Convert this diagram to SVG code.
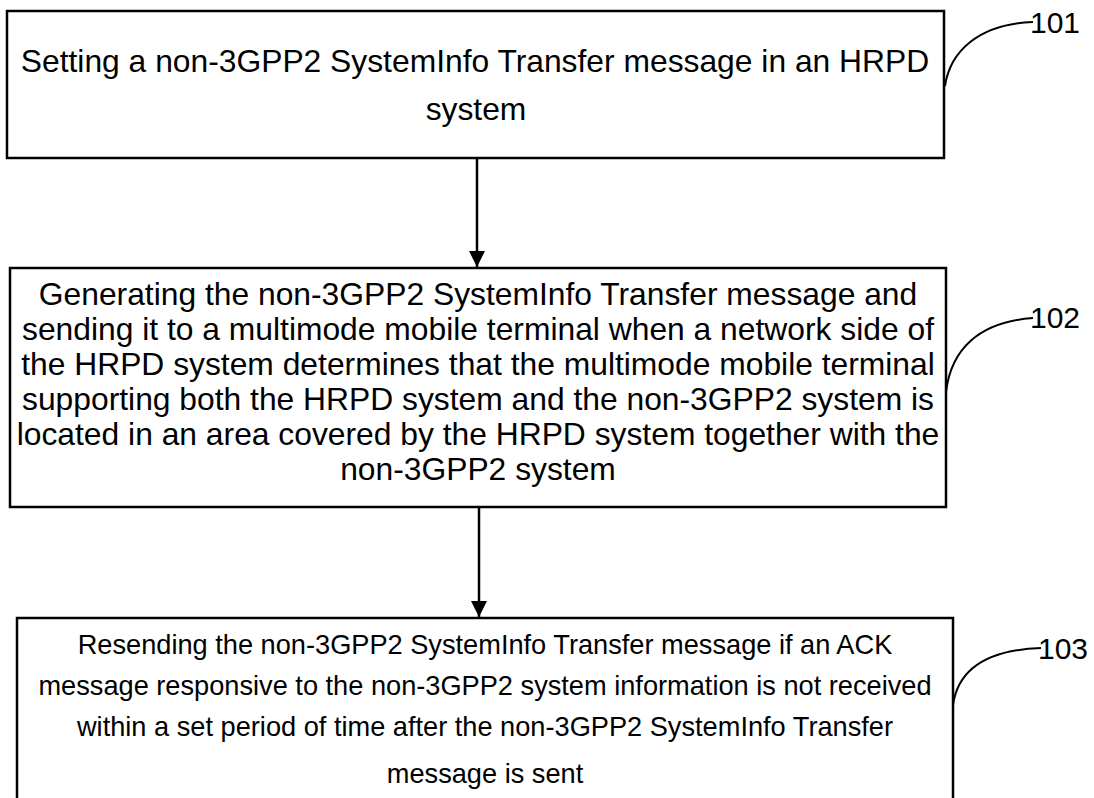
<svg xmlns="http://www.w3.org/2000/svg" width="1094" height="798" viewBox="0 0 1094 798">
<style>
.box{fill:#fff;stroke:#000;stroke-width:2.5}
.t{font-family:"Liberation Sans",Arial,sans-serif;fill:#000;text-anchor:middle}
.t1{font-size:31.8px}
.t3{font-size:27.2px}
.lbl{font-family:"Liberation Sans",Arial,sans-serif;font-size:30px;fill:#000}
.conn{stroke:#000;stroke-width:2.5;fill:none}
.lead{stroke:#000;stroke-width:2;fill:none}
</style>
<defs>
<marker id="ah" markerUnits="userSpaceOnUse" markerWidth="18" markerHeight="16" refX="16" refY="8" orient="auto">
<path d="M0,0 L16,8 L0,16 Z" fill="#000"/>
</marker>
</defs>
<rect width="1094" height="798" fill="#fff"/>
<g id="connectors">
<line class="conn" x1="477" y1="158" x2="477" y2="267" marker-end="url(#ah)"/>
<line class="conn" x1="479" y1="507" x2="479" y2="617" marker-end="url(#ah)"/>
</g>
<g id="node101">
<rect class="box" x="7" y="11" width="937" height="147"/>
<text class="t t1" x="475" y="72">Setting a non-3GPP2 SystemInfo Transfer message in an HRPD</text>
<text class="t t1" x="476" y="120">system</text>
</g>
<g id="node102">
<rect class="box" x="10" y="268" width="936" height="239"/>
<text class="t t1" x="478" y="305">Generating the non-3GPP2 SystemInfo Transfer message and</text>
<text class="t t1" x="478" y="340">sending it to a multimode mobile terminal when a network side of</text>
<text class="t t1" x="478" y="375">the HRPD system determines that the multimode mobile terminal</text>
<text class="t t1" x="478" y="410">supporting both the HRPD system and the non-3GPP2 system is</text>
<text class="t t1" x="478" y="445">located in an area covered by the HRPD system together with the</text>
<text class="t t1" x="478" y="480">non-3GPP2 system</text>
</g>
<g id="node103">
<rect class="box" x="17" y="618" width="936" height="200"/>
<text class="t t3" x="485" y="654">Resending the non-3GPP2 SystemInfo Transfer message if an ACK</text>
<text class="t t3" x="485" y="695">message responsive to the non-3GPP2 system information is not received</text>
<text class="t t3" x="485" y="736">within a set period of time after the non-3GPP2 SystemInfo Transfer</text>
<text class="t t3" x="485" y="783">message is sent</text>
</g>
<g id="labels">
<path class="lead" d="M945,86 C950,52 978,24 1033,22"/>
<text class="lbl" x="1030" y="33">101</text>
<path class="lead" d="M946,392 C951,350 978,322 1033,318"/>
<text class="lbl" x="1030" y="328">102</text>
<path class="lead" d="M953,705 C958,670 985,650 1041,648"/>
<text class="lbl" x="1038" y="659">103</text>
</g>
</svg>
